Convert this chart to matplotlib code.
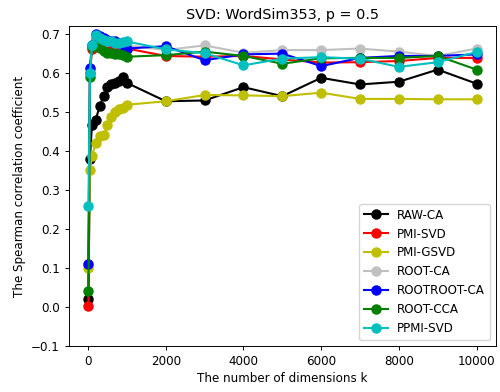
import matplotlib
matplotlib.use("Agg")
import matplotlib.pyplot as plt

dims = [10, 50, 100, 200, 300, 400, 500, 600, 700, 800, 900, 1000,
        2000, 3000, 4000, 5000, 6000, 7000, 8000, 9000, 10000]

raw_ca = [0.02, 0.38, 0.465, 0.48, 0.515, 0.54, 0.563, 0.57, 0.575, 0.578, 0.588, 0.574,
          0.527, 0.529, 0.563, 0.54, 0.587, 0.57, 0.577, 0.608, 0.572]
pmi_svd = [0.003, 0.60, 0.66, 0.69, 0.685, 0.68, 0.675, 0.672, 0.67, 0.668, 0.665, 0.662,
           0.643, 0.641, 0.643, 0.634, 0.626, 0.627, 0.63, 0.638, 0.638]
pmi_gsvd = [0.10, 0.352, 0.386, 0.42, 0.437, 0.44, 0.465, 0.487, 0.499, 0.506, 0.51, 0.518,
            0.527, 0.543, 0.542, 0.54, 0.549, 0.533, 0.533, 0.532, 0.532]
root_ca = [0.11, 0.61, 0.67, 0.695, 0.69, 0.685, 0.682, 0.68, 0.678, 0.675, 0.673, 0.67,
           0.658, 0.67, 0.651, 0.658, 0.658, 0.662, 0.654, 0.643, 0.662]
rootroot_ca = [0.11, 0.613, 0.67, 0.698, 0.695, 0.69, 0.685, 0.682, 0.68, 0.677, 0.67, 0.662,
               0.668, 0.632, 0.647, 0.649, 0.617, 0.638, 0.643, 0.643, 0.647]
root_cca = [0.04, 0.59, 0.665, 0.677, 0.664, 0.655, 0.651, 0.651, 0.648, 0.647, 0.645, 0.641,
            0.645, 0.654, 0.643, 0.623, 0.637, 0.638, 0.638, 0.643, 0.608]
ppmi_svd = [0.26, 0.60, 0.67, 0.697, 0.69, 0.685, 0.681, 0.681, 0.677, 0.677, 0.678, 0.68,
            0.66, 0.65, 0.619, 0.636, 0.64, 0.636, 0.615, 0.627, 0.653]

series = [
    ("RAW-CA", raw_ca, "k"),
    ("PMI-SVD", pmi_svd, "r"),
    ("PMI-GSVD", pmi_gsvd, "y"),
    ("ROOT-CA", root_ca, "silver"),
    ("ROOTROOT-CA", rootroot_ca, "b"),
    ("ROOT-CCA", root_cca, "g"),
    ("PPMI-SVD", ppmi_svd, "c"),
]

s = 0.86
plt.rcParams["font.size"] = 10 * s
plt.rcParams["axes.linewidth"] = 0.8 * s
plt.rcParams["xtick.major.width"] = 0.8 * s
plt.rcParams["ytick.major.width"] = 0.8 * s
plt.rcParams["xtick.major.size"] = 3.5 * s
plt.rcParams["ytick.major.size"] = 3.5 * s

fig = plt.figure(figsize=(5, 3.92), dpi=100)
ax = fig.add_axes([0.138, 0.117, 0.854, 0.817])
for name, vals, col in series:
    ax.plot(dims, vals, marker="o", color=col, label=name,
            markersize=6.5, linewidth=1.5)

ax.set_ylim(-0.1, 0.72)
ax.set_xticks([0, 2000, 4000, 6000, 8000, 10000])
ax.set_title("SVD: WordSim353, p = 0.5", fontsize=12 * s, pad=6 * s)
ax.set_xlabel("The number of dimensions k", labelpad=3 * s)
ax.set_ylabel("The Spearman correlation coefficient", labelpad=4 * s)
ax.legend(loc="lower right")
fig.savefig("out.png", dpi=100)
